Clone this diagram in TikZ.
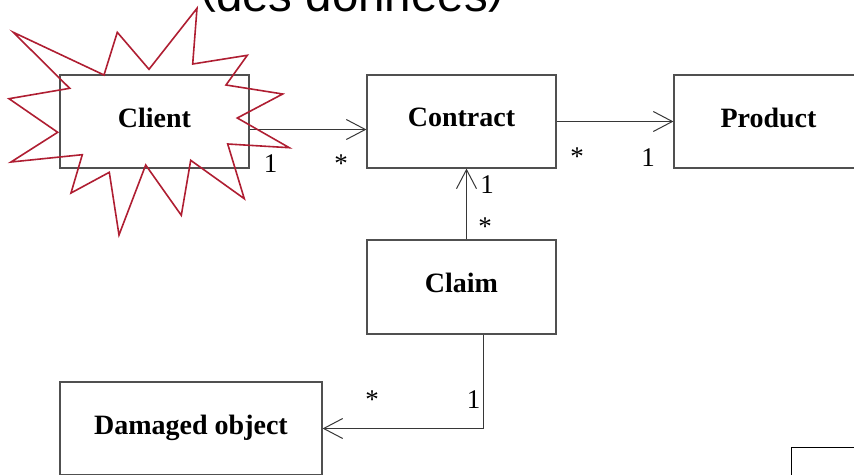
\documentclass[tikz,border=0pt]{standalone}
\usepackage{fontspec}
\setmainfont{Liberation Serif}
\newfontfamily\titlefont{Liberation Sans}
\usetikzlibrary{arrows.meta}
\definecolor{boxgray}{RGB}{80,80,80}
\definecolor{linegray}{RGB}{55,55,55}
\definecolor{starred}{RGB}{175,30,50}
\begin{document}
\begin{tikzpicture}[x=1pt,y=-1pt,
  classbox/.style={draw=boxgray,line width=1.2pt,fill=white,inner sep=0pt,
    minimum width=189pt,minimum height=93pt,
    font=\fontsize{28}{30}\selectfont\bfseries,text depth=8pt},
  assoc/.style={draw=linegray,line width=1pt,
    -{Straight Barb[length=19pt,width=20pt,line width=1pt]}},
  mult/.style={inner sep=0pt,anchor=base,font=\fontsize{27}{30}\selectfont},
  burst/.style={draw=starred,line width=1.6pt}
]
\useasboundingbox (0,0) rectangle (854,474);
\clip (0,0) rectangle (854,474);

% title (cut off at top)
\node[font=\titlefont\fontsize{47.5}{50}\selectfont,anchor=base west,inner sep=0pt]
  (title) at (200,11.5) {\raisebox{9pt}{(}des données\raisebox{9pt}{)}};

% classes
\node[classbox] (client)   at (154.5,121.5) {Client};
\node[classbox] (contract) at (461.5,121.5) {Contract};
\node[classbox] (product)  at (768.5,121.5) {Product};
\node[classbox,minimum height=94pt] (claim) at (461.5,287) {Claim};
\node[classbox,minimum width=262pt] (damaged) at (191,428.5) {Damaged object};
\node[draw=black,line width=1pt,inner sep=0pt,anchor=north west,
  minimum width=100pt,minimum height=60pt] (extra) at (791,447) {};

% associations
\draw[assoc] ([yshift=-8pt]client.east) -- ([yshift=-8pt]contract.west);
\draw[assoc] (contract.east) -- (product.west);
\draw[assoc] ([xshift=5pt]claim.north) -- ([xshift=5pt]contract.south);
\draw[assoc] ([xshift=21.5pt]claim.south) |- (damaged.east);

% multiplicities
\node[mult] (m1) at (270.5,172) {1};
\node[mult] (m2) at (341,172.5) {*};
\node[mult] (m3) at (577,165.5) {*};
\node[mult] (m4) at (648,166) {1};
\node[mult] (m5) at (487,193) {1};
\node[mult] (m6) at (485,235) {*};
\node[mult] (m7) at (372,408) {*};
\node[mult] (m8) at (473.5,408) {1};

% starburst around Client
\draw[burst] (13.3,32.3) -- (104,75) -- (117.3,32.3) -- (149,69.3) -- (197,8.3)
  -- (192.7,64) -- (247.3,55.3) -- (226,85) -- (282.7,94) -- (237.3,118)
  -- (289.3,147.7) -- (227.7,144) -- (244.3,198.7) -- (190.7,160.3)
  -- (181.3,215.3) -- (145.7,165) -- (119,235) -- (109.3,172.3) -- (71,193)
  -- (82.3,154.7) -- (11,162) -- (57.7,132.3) -- (9,98.7) -- (69.7,88.3)
  -- cycle;
\end{tikzpicture}
\end{document}
